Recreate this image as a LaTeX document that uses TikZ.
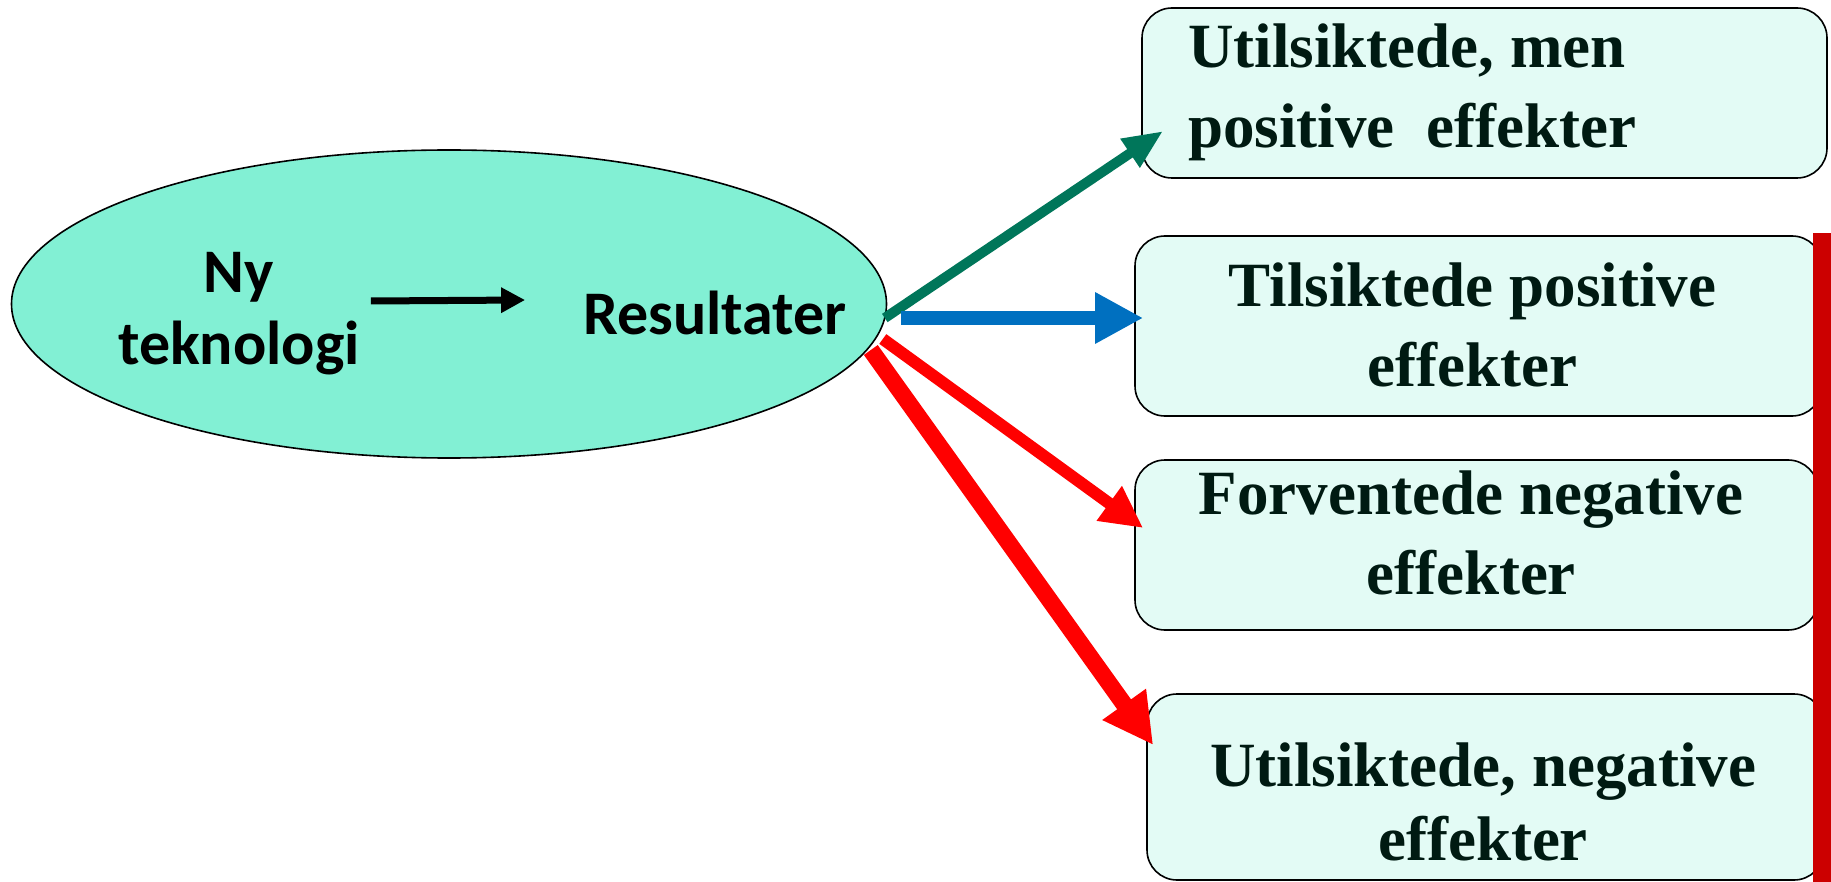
\documentclass[tikz,border=0pt]{standalone}
\usepackage{fontspec}
\setmainfont{Liberation Serif}
\newfontfamily\calibri{Carlito}
\usepackage{xcolor}
\usetikzlibrary{arrows.meta, positioning, shapes.geometric}

\definecolor{ellfill}{HTML}{82F0D4}
\definecolor{boxfill}{HTML}{E3FBF5}
\definecolor{boxtext}{HTML}{001A12}
\definecolor{greenarr}{HTML}{00765A}
\definecolor{bluearr}{HTML}{0070C0}
\definecolor{redarr}{HTML}{FF0000}
\definecolor{redbar}{HTML}{CC0000}

\begin{document}
\begin{tikzpicture} [x = 1pt, y = -1pt,
          effect/.style = {draw, line width = 1.6pt, fill = boxfill,
              rounded corners = 30pt
          },
          efftext/.style = {text = boxtext, align = center, inner sep = 0pt,
              font = \fontsize{63}{80}\selectfont\bfseries
          },
          ellword/.style = {inner sep = 0pt, align = center,
              font = \calibri\fontsize{62}{72}\selectfont\bfseries
          }
          ]

          \useasboundingbox (0,0) rectangle (1831,882);

          % Ellipse
          \node (tech) [ellipse, draw, line width = 1.6pt, fill = ellfill,
              minimum width = 875pt, minimum height = 308pt] at (449,304) {};
          \node (ny) [ellword] at (239,314) {Ny\\teknologi};
          \node (res) [ellword] at (715,313) {Resultater};
          \draw [line width = 7pt, -{Triangle[length = 24pt, width = 24pt]}]
            ([xshift = 11pt, yshift = 13pt]ny.east) -- ([xshift = -58pt, yshift = 13pt]res.west);

          % Effects
          \node (e1) [effect, minimum width = 685pt, minimum height = 170pt] at (1484.5,93) {};
          \node (e2) [effect, minimum width = 687pt, minimum height = 180pt] at (1478.5,326) {};
          \node (e3) [effect, minimum width = 683pt, minimum height = 170pt] at (1476.5,545) {};
          \node (e4) [effect, minimum width = 677pt, minimum height = 186pt] at (1485.5,787) {};

          \node (t1) [efftext, align = left, anchor = west] at (1188,92) {Utilsiktede, men\\positive~ effekter};
          \node (t2) [efftext] at (1472.5,325) {Tilsiktede positive\\effekter};
          \node (t3) [efftext] at (1471,533) {Forventede negative\\effekter};
          \node (t4) [efftext, font = \fontsize{63}{74}\selectfont\bfseries] at (1483,802) {Utilsiktede, negative\\effekter};

          % Bar
          \fill [redbar] (1813,233) rectangle (1831,882);

          % Links
          \draw [greenarr, line width = 10pt, -{Triangle[length = 40pt, width = 32pt]}]
            ([xshift = -2.5pt, yshift = -14pt]tech.east) -- ([xshift = 22pt, yshift = -38pt]e1.west);
          \draw [bluearr, line width = 14pt, -{Triangle[length = 48pt, width = 48pt]}]
            ([xshift = 13.5pt, yshift = -14pt]tech.east) -- ([xshift = 9pt, yshift = 8pt]e2.west);
          \draw [redarr, line width = 12pt, -{Triangle[length = 42pt, width = 40pt]}]
            ([xshift = -4.5pt, yshift = -35pt]tech.east) -- ([xshift = 9pt, yshift = 17pt]e3.west);
          \draw [redarr, line width = 17pt, -{Triangle[length = 50pt, width = 50pt]}]
            ([xshift = -16.5pt, yshift = -46pt]tech.east) -- ([xshift = 7pt, yshift = 42pt]e4.west);

        \end{tikzpicture}
\end{document}
